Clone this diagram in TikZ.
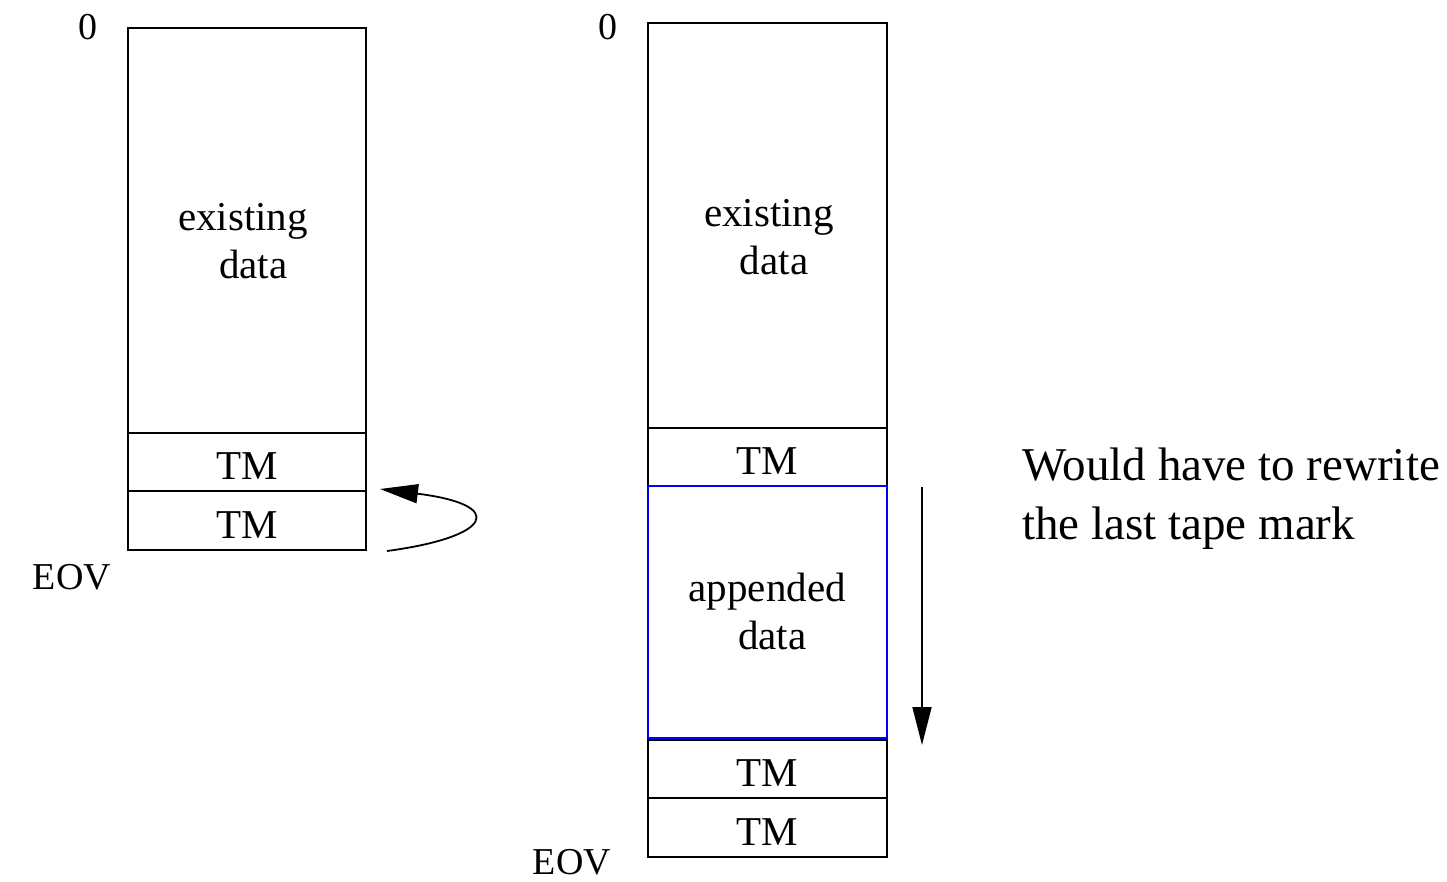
\documentclass[tikz,border=0pt]{standalone}
\usepackage{fontspec}
\setmainfont{Liberation Serif}
\usetikzlibrary{arrows.meta}
\begin{document}
\begin{tikzpicture}[x=1pt,y=-1pt,
  cell/.style={draw, line width=2pt, anchor=north west, inner sep=0pt, font=\fontsize{41}{48}\selectfont, align=center},
  tmcell/.style={cell, text height=35pt, text depth=0pt},
  lbl/.style={font=\fontsize{38}{48}\selectfont, inner sep=0pt},
  note/.style={font=\fontsize{47}{56}\selectfont, inner sep=0pt, anchor=west},
  arr/.style={line width=1.8pt, -{Triangle[length=38pt,width=19pt]}}]
\useasboundingbox (0,0) rectangle (1447,882);
% left column
\node[cell, minimum width=238pt, minimum height=405pt] (l1) at (127,27) {};
\node[cell, draw=none, anchor=center] (l1t) at (243,241) {existing\\\ \ data};
\node[tmcell, minimum width=238pt, minimum height=58pt] (l2) at (127,432) {TM};
\node[tmcell, minimum width=238pt, minimum height=59pt] (l3) at (127,490) {TM};
\node[lbl] (l0) at (88,27) {0};
\node[lbl] (leov) at (72,577) {EOV};
\coordinate (cs) at (387,551);
\coordinate (ce) at (380,489);
\draw[arr] (cs) .. controls (492,537) and (508,505) .. (ce);
% right column
\node[cell, minimum width=239pt, minimum height=405pt] (r1) at (647,22) {};
\node[cell, draw=none, anchor=center] (r1t) at (769,237) {existing\\\ data};
\node[tmcell, minimum width=239pt, minimum height=58pt] (r2) at (647,427) {TM};
\node[cell, draw=blue, line width=1.5pt, minimum width=239pt, minimum height=252pt] (r3) at (647,485) {appended\\\ data};
\node[tmcell, minimum width=239pt, minimum height=58pt] (r4) at (647,739) {TM};
\node[tmcell, minimum width=239pt, minimum height=59pt] (r5) at (647,797) {TM};
\node[lbl] (r0) at (608,27) {0};
\node[lbl] (reov) at (572,862) {EOV};
\coordinate (as) at (922,487);
\coordinate (ae) at (922,745);
\draw[arr] (as) -- (ae);
\node[note] (t1) at (1022,465) {Would have to rewrite};
\node[note] (t2) at (1022,528) {the last tape mark};
\end{tikzpicture}
\end{document}
